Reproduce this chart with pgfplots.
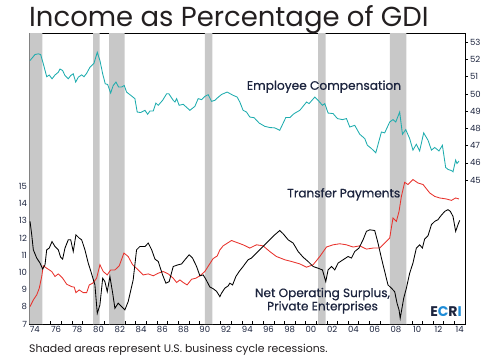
\documentclass[border=0pt]{standalone}
\usepackage{fontspec}
\setmainfont{Poppins}
\newfontfamily\medfont[FakeBold=0.7]{Poppins}
\usepackage{pgfplots}
\pgfplotsset{compat=1.18}
\definecolor{compcol}{RGB}{30,172,174}
\definecolor{redc}{RGB}{232,50,44}
\definecolor{shadec}{RGB}{200,200,200}
\definecolor{navy}{RGB}{28,36,62}
\definecolor{titlec}{RGB}{35,31,32}
\definecolor{ecriblue}{RGB}{30,140,215}
\begin{document}
\begin{tikzpicture}
\path[use as bounding box] (-29.5pt,-36pt) rectangle (465.5pt,324pt);
\begin{axis}[
  at={(0pt,0pt)}, anchor=south west,
  scale only axis, width=435.5pt, height=291pt,
  xmin=1974, xmax=2015, ymin=7, ymax=23.9,
  axis line style={line width=0.9pt, black},
  xtick={1974.5,1976.5,...,2014.5},
  xticklabels={74,76,78,80,82,84,86,88,90,92,94,96,98,00,02,04,06,08,10,12,14},
  minor xtick={1975,1976,...,2014},
  xtick pos=left, xtick align=inside,
  major x tick style={draw=none},
  minor x tick style={black, line width=0.6pt},
  minor tick length=3.5pt,
  ytick={7,...,15}, ytick pos=left,
  ytick style={draw=none},
  tick label style={font=\fontsize{8.5}{9}\selectfont, text=navy},
  /pgf/number format/assume math mode=true,
  xticklabel style={yshift=1pt},
  yticklabel style={xshift=1pt},
  clip=true,
]
\addplot[fill=shadec, draw=none, forget plot] coordinates {(1973.8,0)(1973.8,30)(1975.22,30)(1975.22,0)} \closedcycle;
\addplot[fill=shadec, draw=none, forget plot] coordinates {(1980.0,0)(1980.0,30)(1980.6,30)(1980.6,0)} \closedcycle;
\addplot[fill=shadec, draw=none, forget plot] coordinates {(1981.5,0)(1981.5,30)(1982.95,30)(1982.95,0)} \closedcycle;
\addplot[fill=shadec, draw=none, forget plot] coordinates {(1990.52,0)(1990.52,30)(1991.22,30)(1991.22,0)} \closedcycle;
\addplot[fill=shadec, draw=none, forget plot] coordinates {(2001.17,0)(2001.17,30)(2001.88,30)(2001.88,0)} \closedcycle;
\addplot[fill=shadec, draw=none, forget plot] coordinates {(2007.92,0)(2007.92,30)(2009.47,30)(2009.47,0)} \closedcycle;
% Transfer payments
\addplot[redc, line width=0.85pt] coordinates {
(1974.05,8.01)(1974.36,8.40)(1974.68,8.69)(1974.92,9.08)(1975.15,9.76)(1975.30,10.38)(1975.62,10.24)(1976.09,10.05)(1976.40,9.76)(1976.71,9.91)(1977.12,9.66)(1977.50,9.31)(1977.97,9.17)(1978.21,9.14)(1978.37,8.82)(1978.68,8.98)(1979.06,8.82)(1979.38,8.82)(1979.63,9.27)(1979.95,9.37)(1980.32,9.66)(1980.63,10.44)(1980.94,10.05)(1981.32,9.85)(1981.64,10.14)(1982.04,10.14)(1982.45,10.38)(1982.89,11.12)(1983.29,10.92)(1983.71,10.44)(1984.24,10.14)(1984.71,9.85)(1985.18,9.91)(1985.65,9.80)(1986.12,9.95)(1986.59,10.05)(1987.06,9.91)(1987.53,9.66)(1987.85,9.41)(1988.16,9.56)(1988.47,9.41)(1988.84,9.27)(1989.26,9.60)(1989.66,9.66)(1990.04,9.80)(1990.51,10.05)(1990.91,10.44)(1991.29,10.80)(1991.67,10.95)(1991.92,11.30)(1992.23,11.54)(1993.02,11.85)(1993.49,11.74)(1994.11,11.60)(1994.74,11.41)(1995.37,11.60)(1995.99,11.54)(1996.62,11.21)(1997.25,10.92)(1998.04,10.73)(1998.67,10.63)(1999.45,10.49)(2000.08,10.30)(2000.70,10.44)(2001.33,10.92)(2001.96,11.47)(2002.58,11.60)(2003.21,11.66)(2003.84,11.60)(2004.46,11.47)(2005.09,11.54)(2005.72,11.35)(2006.34,11.41)(2006.97,11.41)(2007.44,11.70)(2007.91,11.99)(2008.22,13.16)(2008.54,12.96)(2008.79,13.54)(2009.01,14.41)(2009.32,15.23)(2009.63,15.10)(2010.10,15.39)(2010.57,15.19)(2011.05,15.10)(2011.68,14.61)(2012.15,14.41)(2012.62,14.32)(2013.25,14.26)(2013.72,14.18)(2014.12,14.32)(2014.43,14.26)
};
% Net operating surplus
\addplot[black, line width=0.85pt] coordinates {
(1974.05,12.96)(1974.21,12.18)(1974.36,11.31)(1974.68,10.83)(1974.99,10.54)(1975.24,10.19)(1975.46,10.44)(1975.62,11.31)(1975.86,11.41)(1976.12,11.79)(1976.40,11.50)(1976.71,11.31)(1976.93,10.88)(1977.12,10.77)(1977.34,11.41)(1977.65,11.89)(1977.88,11.89)(1978.12,11.21)(1978.37,12.18)(1978.68,11.99)(1978.91,11.89)(1979.22,11.31)(1979.53,10.54)(1979.85,9.91)(1980.16,9.27)(1980.38,7.62)(1980.63,8.11)(1980.89,9.66)(1981.10,9.46)(1981.32,8.88)(1981.57,9.76)(1981.83,8.79)(1982.04,7.91)(1982.35,8.21)(1982.67,8.01)(1982.98,7.82)(1983.29,8.30)(1983.76,9.56)(1984.08,11.31)(1984.39,11.50)(1984.87,11.50)(1985.18,11.70)(1985.50,11.31)(1985.81,10.77)(1986.12,10.63)(1986.53,9.85)(1986.84,9.37)(1987.15,9.46)(1987.53,10.34)(1988.00,10.44)(1988.32,10.49)(1988.63,10.73)(1989.03,11.02)(1989.35,10.83)(1989.73,10.34)(1990.04,9.80)(1990.35,9.85)(1990.60,9.60)(1990.98,9.15)(1991.29,9.05)(1991.61,8.90)(1991.92,8.59)(1992.08,8.79)(1992.39,9.08)(1992.70,9.21)(1992.86,9.37)(1993.12,9.27)(1993.43,9.76)(1993.74,10.05)(1994.11,10.34)(1994.58,10.73)(1994.90,10.83)(1995.21,11.02)(1995.68,11.31)(1996.15,11.60)(1996.62,11.89)(1997.09,12.18)(1997.56,12.43)(1997.88,12.24)(1998.35,11.89)(1998.82,11.70)(1999.29,11.21)(1999.76,10.88)(2000.23,10.63)(2000.70,10.34)(2001.17,10.24)(2001.58,10.14)(2001.89,9.46)(2002.11,10.14)(2002.43,10.34)(2002.74,10.14)(2003.05,10.54)(2003.52,10.73)(2003.99,10.92)(2004.31,10.83)(2004.62,11.21)(2005.02,11.41)(2005.40,11.89)(2005.72,12.38)(2006.03,12.47)(2006.50,12.43)(2006.81,11.70)(2007.13,10.83)(2007.44,10.05)(2007.75,9.27)(2008.07,9.08)(2008.38,8.88)(2008.60,8.21)(2008.79,7.82)(2008.90,7.33)(2009.23,8.50)(2009.48,9.08)(2009.79,9.95)(2010.10,10.54)(2010.42,11.41)(2010.73,11.60)(2010.99,11.41)(2011.20,11.93)(2011.52,12.13)(2011.84,12.77)(2012.15,12.96)(2012.46,13.06)(2012.68,13.25)(2013.09,13.54)(2013.40,13.64)(2013.62,13.54)(2013.87,13.25)(2014.12,12.38)(2014.34,12.77)(2014.50,13.02)
};
\end{axis}
\begin{axis}[
  at={(0pt,0pt)}, anchor=south west,
  scale only axis, width=435.5pt, height=291pt,
  xmin=1974, xmax=2015, ymin=36.64, ymax=53.54,
  axis x line=none, axis y line*=right,
  axis line style={line width=0.9pt, black},
  ytick={45,...,53}, ytick align=outside,
  major tick length=3pt,
  ytick style={black, line width=0.6pt},
  tick label style={font=\fontsize{8.5}{9}\selectfont, text=navy},
  /pgf/number format/assume math mode=true,
  yticklabel style={xshift=-1.5pt},
  clip=true,
]
\addplot[compcol, line width=0.85pt] coordinates {
(1974.05,51.94)(1974.52,52.29)(1974.83,52.33)(1975.05,52.29)(1975.30,51.75)(1975.62,51.00)(1975.86,51.10)(1976.12,50.88)(1976.40,51.10)(1976.71,51.26)(1976.87,51.45)(1977.12,51.36)(1977.34,51.07)(1977.65,50.88)(1977.88,51.07)(1978.12,51.17)(1978.35,50.69)(1978.59,50.97)(1978.91,51.11)(1979.13,51.00)(1979.38,51.20)(1979.69,51.55)(1980.07,51.78)(1980.38,52.42)(1980.63,51.94)(1980.89,51.17)(1981.13,50.59)(1981.36,50.55)(1981.64,50.05)(1981.88,50.49)(1982.14,50.69)(1982.39,50.40)(1982.67,50.40)(1982.92,50.49)(1983.14,50.11)(1983.45,49.96)(1983.92,49.73)(1984.14,48.95)(1984.46,48.92)(1984.87,49.05)(1985.12,48.82)(1985.34,49.01)(1985.65,49.01)(1985.90,49.47)(1986.12,49.34)(1986.53,49.63)(1986.91,50.01)(1987.12,50.01)(1987.53,49.63)(1987.69,49.53)(1987.85,49.73)(1988.09,49.34)(1988.47,49.40)(1989.10,49.05)(1989.57,49.28)(1989.88,49.73)(1990.20,49.67)(1990.51,49.86)(1990.82,49.96)(1991.14,49.57)(1991.45,49.63)(1991.61,49.73)(1992.08,49.97)(1992.61,50.11)(1993.17,49.92)(1993.55,49.82)(1993.80,49.53)(1994.11,49.05)(1994.43,48.95)(1994.74,48.66)(1995.15,48.62)(1995.62,48.31)(1996.15,48.12)(1996.62,48.05)(1997.09,48.03)(1997.56,47.89)(1998.13,48.63)(1998.51,48.63)(1998.91,48.86)(1999.45,49.05)(2000.08,49.53)(2000.32,49.44)(2000.86,49.82)(2001.17,49.63)(2001.58,49.34)(2001.80,49.44)(2002.11,48.89)(2002.58,48.86)(2002.99,48.57)(2003.46,48.51)(2003.84,48.57)(2004.15,48.08)(2004.62,48.18)(2005.09,47.66)(2005.56,47.41)(2005.81,47.02)(2006.19,46.83)(2006.60,46.58)(2007.13,47.79)(2007.44,47.74)(2007.91,48.37)(2008.22,48.51)(2008.48,48.37)(2008.85,48.95)(2009.11,47.66)(2009.42,47.93)(2009.79,47.41)(2010.10,46.74)(2010.42,47.08)(2010.73,46.69)(2011.11,47.74)(2011.52,47.31)(2011.84,46.74)(2012.15,46.89)(2012.55,46.69)(2012.87,47.02)(2013.18,45.73)(2013.40,45.62)(2013.72,45.55)(2013.87,45.48)(2014.12,46.16)(2014.24,45.96)(2014.43,46.10)
};
\end{axis}
% texts
\node[anchor=base west, inner sep=0pt, text=titlec, font=\fontsize{27.5}{30}\selectfont] at (-0.5pt,298pt) {Income as Percentage of GDI};
\node[anchor=base west, inner sep=0pt, text=titlec, font=\fontsize{10.9}{12}\selectfont] at (-0.5pt,-28pt) {Shaded areas represent U.S. business cycle recessions.};
\node[inner sep=0pt, text=navy, font=\medfont\fontsize{12.2}{13}\selectfont] at (294.5pt,237.3pt) {Employee Compensation};
\node[inner sep=0pt, text=navy, font=\medfont\fontsize{12.1}{13}\selectfont] at (314.3pt,129.7pt) {Transfer Payments};
\node[inner sep=0pt, text=navy, font=\medfont\fontsize{12.1}{13.3}\selectfont, align=center] at (293pt,23.3pt) {Net Operating Surplus,\\Private Enterprises};
\node[inner sep=0pt, font=\bfseries\fontsize{14}{15}\selectfont] at (416.5pt,12.7pt) {\textcolor{navy}{E}\textcolor{ecriblue}{C}\textcolor{navy}{R}\textcolor{ecriblue}{I}};
\end{tikzpicture}
\end{document}
